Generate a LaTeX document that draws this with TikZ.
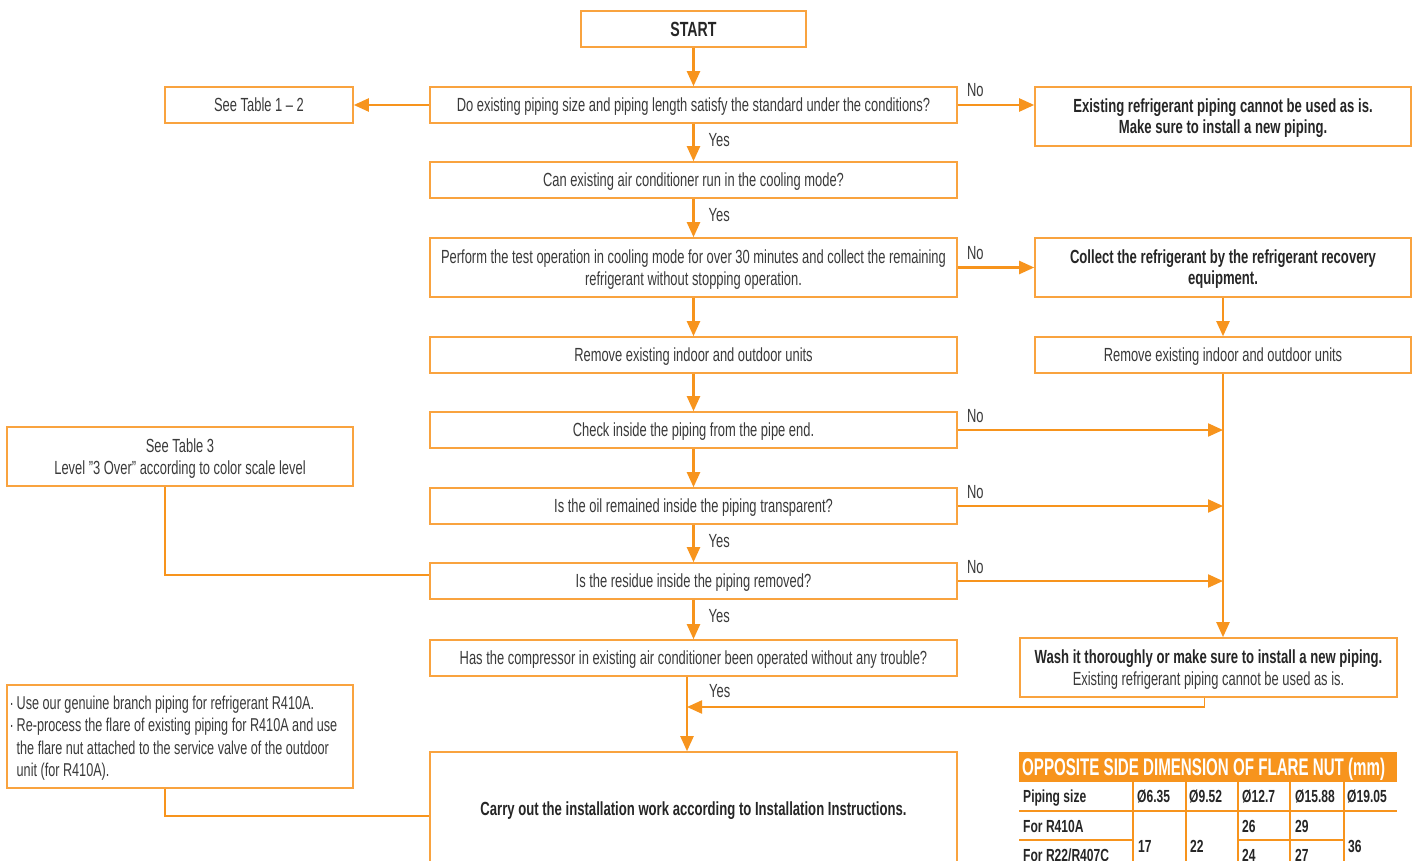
\documentclass[tikz,border=0pt]{standalone}
\usepackage{fontspec}
\setmainfont{Liberation Sans}[FakeStretch=0.68]
\newfontfamily\bd{Liberation Sans}[FakeStretch=0.69]
\newfontfamily\hd{Liberation Sans}[FakeStretch=0.63]
\usetikzlibrary{arrows.meta,calc}
\definecolor{aor}{HTML}{F7941D}
\definecolor{bor}{HTML}{F9A33F}
\definecolor{txt}{HTML}{3A3A3A}
\definecolor{btxt}{HTML}{262626}
\tikzset{
  box/.style={draw=bor, line width=1.6pt, inner sep=0pt, align=center, text depth=0pt, text=txt, font=\fontsize{19}{22.5}\selectfont},
  bbox/.style={box, text=btxt, font=\bd\bfseries\fontsize{19}{21}\selectfont},
  arr/.style={draw=aor, line width=2.2pt, -{Triangle[length=15pt,width=13pt]}},
  ln/.style={draw=aor, line width=1.6pt},
  tl/.style={draw=aor, line width=1.2pt},
  lbl/.style={text=txt, font=\fontsize{19}{22}\selectfont, inner sep=0pt, anchor=base west},
  cell/.style={anchor=base west, inner sep=0pt, text=btxt, font=\bd\bfseries\fontsize{17.5}{17}\selectfont},
}
\begin{document}
\begin{tikzpicture}[x=1pt,y=-1pt]
\useasboundingbox (0,0) rectangle (1417,861);
\fill[white] (0,0) rectangle (1417,861);
\clip (0,0) rectangle (1417,861);

% main column
\node[bbox, font=\bd\bfseries\fontsize{20.5}{24}\selectfont, minimum width=225pt, minimum height=36pt] (start) at (693.5,29) {START};
\node[box, minimum width=527pt, minimum height=36pt] (q1) at (693.5,105) {Do existing piping size and piping length satisfy the standard under the conditions?};
\node[box, minimum width=188pt, minimum height=36pt] (t12) at (259,105) {See Table 1 – 2};
\node[bbox, minimum width=376pt, minimum height=59pt] (ex) at (1223,116.5) {Existing refrigerant piping cannot be used as is.\\Make sure to install a new piping.};
\node[box, minimum width=527pt, minimum height=36pt] (q2) at (693.5,180) {Can existing air conditioner run in the cooling mode?};
\node[box, minimum width=527pt, minimum height=59pt] (q3) at (693.5,267.5) {Perform the test operation in cooling mode for over 30 minutes and collect the remaining\\refrigerant without stopping operation.};
\node[bbox, minimum width=376pt, minimum height=59pt] (col) at (1223,267.5) {Collect the refrigerant by the refrigerant recovery\\equipment.};
\node[box, minimum width=527pt, minimum height=36pt] (rm1) at (693.5,355) {Remove existing indoor and outdoor units};
\node[box, minimum width=376pt, minimum height=36pt] (rm2) at (1223,355) {Remove existing indoor and outdoor units};
\node[box, minimum width=527pt, minimum height=36pt] (chk) at (693.5,430) {Check inside the piping from the pipe end.};
\node[box, minimum width=346pt, minimum height=59pt] (t3) at (180,456.5) {See Table 3\\Level \symbol{34}3 Over\symbol{34} according to color scale level};
\node[box, minimum width=527pt, minimum height=36pt] (oil) at (693.5,506) {Is the oil remained inside the piping transparent?};
\node[box, minimum width=527pt, minimum height=36pt] (res) at (693.5,581) {Is the residue inside the piping removed?};
\node[box, minimum width=527pt, minimum height=36pt] (cmp) at (693.5,658) {Has the compressor in existing air conditioner been operated without any trouble?};
\node[box, minimum width=377pt, minimum height=59pt] (wash) at (1208.5,667.5) {{\bd\bfseries\color{btxt}Wash it thoroughly or make sure to install a new piping.}\\Existing refrigerant piping cannot be used as is.};
\node[box, minimum width=346pt, minimum height=103pt, align=left, font=\fontsize{18.6}{22.5}\selectfont] (bul) at (180,736.5) {\makebox[7pt][l]{·}Use our genuine branch piping for refrigerant R410A.\\\makebox[7pt][l]{·}Re-process the flare of existing piping for R410A and use\rule{13pt}{0pt}\\\hspace*{7pt}the flare nut attached to the service valve of the outdoor\\\hspace*{7pt}unit (for R410A).};
\node[bbox, minimum width=527pt, minimum height=114pt] (car) at (693.5,809) {Carry out the installation work according to Installation Instructions.};

% connectors
\draw[arr] (start.south) -- (q1.north);
\draw[arr] (q1.west) -- (t12.east);
\draw[arr] (q1.east) -- (q1.east -| ex.west);
\node[lbl] at ($(q1.east)+(9,-8)$) {No};
\draw[arr] (q1.south) -- (q2.north);
\node[lbl] at ($(q1.south)+(15,23)$) {Yes};
\draw[arr] (q2.south) -- (q3.north);
\node[lbl] at ($(q2.south)+(15,23)$) {Yes};
\draw[arr] (q3.east) -- (col.west);
\node[lbl] at ($(q3.east)+(9,-8)$) {No};
\draw[arr] (q3.south) -- (rm1.north);
\draw[arr] (col.south) -- (rm2.north);
\draw[arr] (rm1.south) -- (chk.north);
\draw[arr] (chk.south) -- (oil.north);
\draw[arr] (oil.south) -- (res.north);
\node[lbl] at ($(oil.south)+(15,23)$) {Yes};
\draw[arr] (res.south) -- (cmp.north);
\node[lbl] at ($(res.south)+(15,23)$) {Yes};
\draw[arr] (chk.east) -- (chk.east -| rm2.south);
\node[lbl] at ($(chk.east)+(9,-8)$) {No};
\draw[arr] (oil.east) -- (oil.east -| rm2.south);
\node[lbl] at ($(oil.east)+(9,-8)$) {No};
\draw[arr] (res.east) -- (res.east -| rm2.south);
\node[lbl] at ($(res.east)+(9,-8)$) {No};
\draw[arr] (rm2.south) -- (rm2.south |- wash.north);

\coordinate (cx) at (687,0);
\draw[arr] (cmp.south -| cx) -- (car.north -| cx);
\node[lbl] at ($(cmp.south -| cx)+(22,21)$) {Yes};
\coordinate (wb) at ($(wash.south)+(-4,0)$);
\coordinate (jn) at (687,707);
\draw[ln] (wb) -- (wb |- jn);
\draw[arr] (wb |- jn) -- (jn);

\coordinate (lx) at (165,0);
\draw[ln] (t3.south -| lx) |- ($(res.west)+(0,-6)$);
\draw[ln] (bul.south -| lx) |- ($(car.west)+(0,7)$);

% table
\fill[aor] (1019,752) rectangle (1397,782);
\node[anchor=base west, inner sep=0pt, text=white, font=\hd\bfseries\fontsize{24}{24}\selectfont] (th) at (1022,775) {OPPOSITE SIDE DIMENSION OF FLARE NUT (mm)};
\draw[tl] (1019,811) -- (1397,811);
\draw[tl] (1019,840) -- (1133,840);
\draw[tl] (1238,840) -- (1344,840);
\foreach \cx in {1133,1186,1238,1290,1344} \draw[tl] (\cx,782) -- (\cx,875);
\node[cell] (c11) at (1023,802) {Piping size};
\node[cell] (c12) at (1137,802) {Ø6.35};
\node[cell] (c13) at (1189,802) {Ø9.52};
\node[cell] (c14) at (1242,802) {Ø12.7};
\node[cell] (c15) at (1295,802) {Ø15.88};
\node[cell] (c16) at (1347,802) {Ø19.05};
\node[cell] (c21) at (1023,832) {For R410A};
\node[cell] (c24) at (1242,832) {26};
\node[cell] (c25) at (1295,832) {29};
\node[cell] (c22) at (1138,852) {17};
\node[cell] (c23) at (1190,852) {22};
\node[cell] (c26) at (1348,852) {36};
\node[cell] (c31) at (1023,861) {For R22/R407C};
\node[cell] (c34) at (1242,861) {24};
\node[cell] (c35) at (1295,861) {27};
\end{tikzpicture}
\end{document}
